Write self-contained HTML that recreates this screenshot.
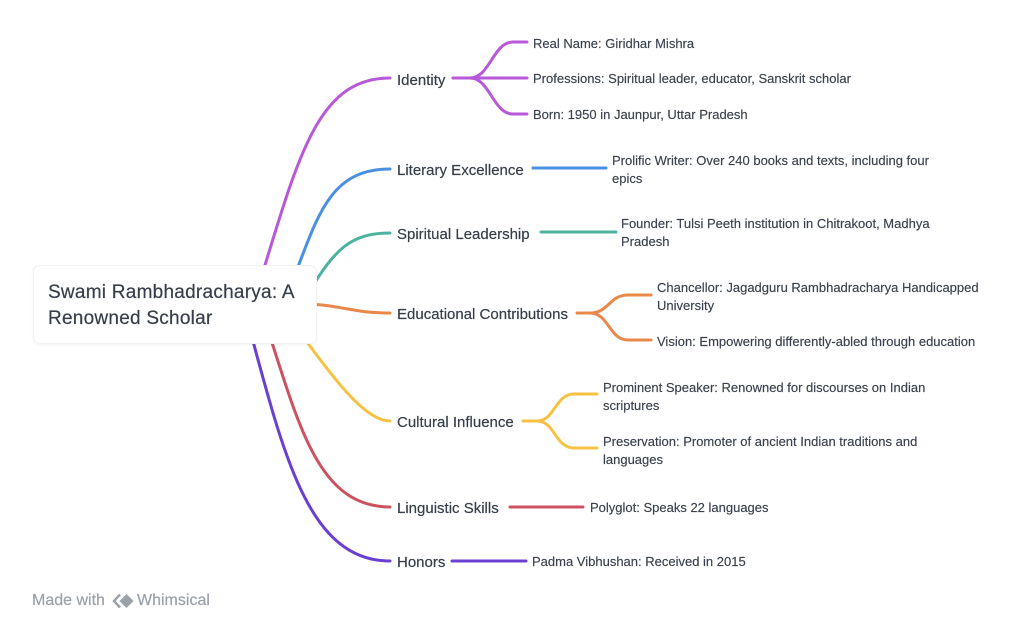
<!DOCTYPE html>
<html>
<head>
<meta charset="utf-8">
<style>
  html, body { margin:0; padding:0; background:#ffffff; }
  body { width:1024px; height:625px; position:relative; overflow:hidden;
         font-family:"Liberation Sans", sans-serif; color:#3d4450; }
  svg.lines { position:absolute; left:0; top:0; }
  .card { position:absolute; left:33px; top:265px; width:284px; height:79px;
          background:#fff; border-radius:7px; border:1px solid #f1f2f4;
          box-sizing:border-box; box-shadow:0 1px 3px rgba(0,0,0,0.05); }
  .root { position:absolute; left:48px; top:280px; font-size:19px; line-height:26px;
          letter-spacing:0.25px; white-space:nowrap; color:#373e49; -webkit-text-stroke:0.2px #373e49; }
  .l1 { position:absolute; left:397px; font-size:15px; line-height:18px; white-space:nowrap; color:#373e49; -webkit-text-stroke:0.2px #373e49; }
  .c { position:absolute; font-size:13px; line-height:18px; white-space:nowrap; color:#3a414c; -webkit-text-stroke:0.15px #3a414c; }
  .wm { position:absolute; top:591px; font-size:16px; line-height:20px; color:#9ba1a9; white-space:nowrap; -webkit-text-stroke:0.2px #9ba1a9; }
</style>
</head>
<body>
<svg class="lines" width="1024" height="625" viewBox="0 0 1024 625" fill="none" stroke-width="3" stroke-linecap="round">
  <path d="M262,275 C300,150 320,78 390,78" stroke="#b759d8"/>
  <path d="M293,280 C318,215 330,169 390,169" stroke="#4a90e0"/>
  <path d="M310,290 C335,250 350,233 390,233" stroke="#4bb39e"/>
  <path d="M300,304 C340,304 350,313 390,313" stroke="#e8884a"/>
  <path d="M298,330 C335,380 365,421 390,421" stroke="#f5c244"/>
  <path d="M268,330 C300,430 320,507 390,507" stroke="#cc5262"/>
  <path d="M250,330 C285,460 310,561 390,561" stroke="#6a3fd2"/>

  <path d="M453,78 L470,78 C490,78 493,42 513,42 L527,42" stroke="#b759d8"/>
  <path d="M453,78 L527,78" stroke="#b759d8"/>
  <path d="M470,78 C490,78 493,114 513,114 L527,114" stroke="#b759d8"/>

  <path d="M533,168 L606,168" stroke="#4a90e0"/>
  <path d="M541,232 L616,232" stroke="#4bb39e"/>

  <path d="M577,313 L590,313 C609,313 609,295 628,295 L651,295" stroke="#e8884a"/>
  <path d="M590,313 C609,313 609,340 628,340 L651,340" stroke="#e8884a"/>

  <path d="M523,421 L537,421 C555,421 555,394 574,394 L597,394" stroke="#f5c244"/>
  <path d="M537,421 C555,421 555,448 574,448 L597,448" stroke="#f5c244"/>

  <path d="M510,507 L583,507" stroke="#cc5262"/>
  <path d="M452,561 L526,561" stroke="#6a3fd2"/>
</svg>

<div class="card"></div>
<div class="root">Swami Rambhadracharya: A<br>Renowned Scholar</div>

<div class="l1" style="top:72px;">Identity</div>
<div class="l1" style="top:162px;">Literary Excellence</div>
<div class="l1" style="top:226px;">Spiritual Leadership</div>
<div class="l1" style="top:306px;">Educational Contributions</div>
<div class="l1" style="top:414px;">Cultural Influence</div>
<div class="l1" style="top:500px;">Linguistic Skills</div>
<div class="l1" style="top:554px;">Honors</div>

<div class="c" style="left:533px; top:35px;">Real Name: Giridhar Mishra</div>
<div class="c" style="left:533px; top:70px;">Professions: Spiritual leader, educator, Sanskrit scholar</div>
<div class="c" style="left:533px; top:106px;">Born: 1950 in Jaunpur, Uttar Pradesh</div>

<div class="c" style="left:612px; top:152px;">Prolific Writer: Over 240 books and texts, including four<br>epics</div>
<div class="c" style="left:621px; top:215px;">Founder: Tulsi Peeth institution in Chitrakoot, Madhya<br>Pradesh</div>

<div class="c" style="left:657px; top:279px;">Chancellor: Jagadguru Rambhadracharya Handicapped<br>University</div>
<div class="c" style="left:657px; top:333px;">Vision: Empowering differently-abled through education</div>

<div class="c" style="left:603px; top:379px;">Prominent Speaker: Renowned for discourses on Indian<br>scriptures</div>
<div class="c" style="left:603px; top:433px;">Preservation: Promoter of ancient Indian traditions and<br>languages</div>

<div class="c" style="left:590px; top:499px;">Polyglot: Speaks 22 languages</div>
<div class="c" style="left:532px; top:553px;">Padma Vibhushan: Received in 2015</div>

<div class="wm" style="left:32px;">Made with</div>
<svg style="position:absolute; left:111px; top:592px;" width="24" height="18" viewBox="0 0 24 18">
  <path d="M9,2.5 L3,9 L9,15.5" fill="none" stroke="#9ba1a9" stroke-width="2.4" stroke-linejoin="miter"/>
  <path d="M15.5,2 L22.5,9 L15.5,16 L8.5,9 Z" fill="#9ba1a9"/>
</svg>
<div class="wm" style="left:137px;">Whimsical</div>
</body>
</html>
